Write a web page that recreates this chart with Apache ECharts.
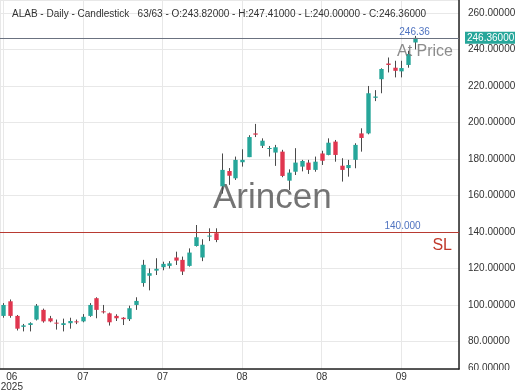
<!DOCTYPE html>
<html><head><meta charset="utf-8">
<script src="https://cdn.jsdelivr.net/npm/echarts@6/dist/echarts.min.js"></script>
<style>html,body{margin:0;padding:0;background:#fff}#c{width:520px;height:390px}</style>
</head><body><div id="c"></div>
<script>
// ---- data ----
const openVals  = [94,102,94,88,89,92,97.3,92.7,90.3,89,90,91,91,94,103.7,96.5,95.4,94,93,92.2,100,112,116,118.8,120.7,121.4,126,124.7,121.4,132.3,126,137.5,139.3,165,173.4,169.4,178.2,181,194,187.2,185.5,183.5,184,168.1,173,175.8,178,174,183,182.2,189.5,176.3,175,179.5,194,194,213.5,223.7,232.3,230,228,231.5,243.82];
const highVals  = [101,103,94.5,89.6,90.5,100.5,98,94,92,92.5,93,92,95,101,104.2,100,95.8,94.9,93.3,99.6,104.2,124.7,120,125.6,123.7,124,129.2,126.5,131,143.8,136,142,142,183,175,181.3,185.3,193,199.2,191.3,187.1,187.7,185,174.3,185.9,179.5,179.5,181.3,184.5,191.3,190.4,180.4,179.5,188.6,196.8,220,217.7,229.7,235.6,233.8,233.8,239.3,247.41];
const lowVals   = [93,93,86,85.5,85.5,91.5,90.3,90.5,86.5,85.5,87,89.5,90.5,93.5,92.7,95.3,88.7,91.2,89,91.2,97.3,110,108,116.4,119,120,121.9,116.4,121,132,124,135,134.4,161,165.8,168.5,175.8,181,192,186,181.3,176.2,170,163,171.2,173.2,171.8,173,176.7,182,178.5,167.6,170.3,174.9,184,193.5,211.7,216,227.4,224.7,224.7,230,240];
const closeVals = [100,94,87,88.8,90,99.6,91,91,89.8,90,91.2,90.5,93.5,100,97.3,96,90.5,92.7,92.2,98.2,102.2,122,117.4,119.8,122.5,122.8,124.3,118.3,128.7,137.1,133,138,135.6,174,170.8,179.5,179.5,192,193.3,190,186,186.4,170.7,172.5,178,178.9,174,178.5,179,188.9,182.2,174,176.7,187.7,191.5,216,214.2,229.3,231.5,228.3,229.8,237.5,246.36];
const tickLabels = ['06','07','07','08','08','09'];
const yearLabel = '2025';
const slLevel = 140;
const slLabel = '140.000';
const titleText = 'ALAB - Daily - Candlestick   63/63 - O:243.82000 - H:247.41000 - L:240.00000 - C:246.36000';

const GREEN = '#26a69a', RED = '#e0364f';
const lastClose = closeVals[closeVals.length - 1];
const rows = openVals.map((o, i) => [i, o, closeVals[i], lowVals[i], highVals[i]]);
const xMin = -0.5, xMax = 68.7, yMin = 64.9, yMax = 267.1;

const chart = echarts.init(document.getElementById('c'), null, {renderer: 'canvas'});
const FONT = 'Liberation Sans, Arial, sans-serif';
chart.setOption({
  animation: false,
  backgroundColor: '#fff',
  textStyle: {fontFamily: FONT},
  title: {text: titleText, left: 7, top: 4, textStyle: {fontSize: 10, fontWeight: 'normal', color: '#333', fontFamily: FONT}},
  grid: {left: 0, right: 61, top: 0, bottom: 21, containLabel: false, outerBoundsMode: 'none'},
  xAxis: {
    type: 'value', min: xMin, max: xMax, minInterval: 12, maxInterval: 12, splitNumber: 6,
    axisLine: {show: true, onZero: false, lineStyle: {color: '#222', width: 1.5}},
    axisTick: {show: false},
    splitLine: {show: true, lineStyle: {color: '#e8e8e8'}},
    axisLabel: {
      showMinLabel: false, showMaxLabel: false, margin: 3, color: '#333', fontSize: 10, fontFamily: FONT, lineHeight: 10,
      formatter: v => {
        const k = Math.round(v / 12);
        if (Math.abs(v - k * 12) > 0.01 || k < 0 || k >= tickLabels.length) return '';
        return k === 0 ? '{p|}{a|' + tickLabels[0] + '}\n{p|}{a|' + yearLabel + '}' : tickLabels[k];
      },
      rich: {
        p: {width: 17, fontSize: 10, lineHeight: 10},
        a: {width: 24, align: 'center', fontSize: 10, lineHeight: 10, color: '#333'}
      }
    }
  },
  yAxis: {
    type: 'value', position: 'right', min: yMin, max: yMax, minInterval: 20, maxInterval: 20, splitNumber: 10,
    axisLine: {show: true, onZero: false, lineStyle: {color: '#222', width: 1.5}},
    axisTick: {show: false},
    splitLine: {show: true, lineStyle: {color: '#e8e8e8'}},
    axisLabel: {showMinLabel: false, showMaxLabel: false, margin: 9, color: '#333', fontSize: 10, fontFamily: FONT, formatter: v => v.toFixed(5)}
  },
  series: [
    {
      type: 'custom', data: rows, clip: true, z: 3,
      encode: {x: 0, y: [1, 2, 3, 4]},
      renderItem: (params, api) => {
        const x = api.value(0), o = api.value(1), c = api.value(2), l = api.value(3), h = api.value(4);
        const pO = api.coord([x, o]), pC = api.coord([x, c]), pL = api.coord([x, l]), pH = api.coord([x, h]);
        const w = api.size([1, 0])[0] * 0.66;
        const top = Math.min(pO[1], pC[1]);
        const hh = Math.max(1, Math.abs(pO[1] - pC[1]));
        const col = c >= o ? GREEN : RED;
        const cx = Math.round(pO[0]) + 0.5;
        return {type: 'group', children: [
          {type: 'line', shape: {x1: cx, y1: pH[1], x2: cx, y2: pL[1]}, style: {stroke: '#4a4a4a', lineWidth: 1}},
          {type: 'rect', shape: {x: cx - w / 2, y: top, width: w, height: hh}, style: {fill: col}}
        ]};
      }
    },
    {
      type: 'line', data: [], silent: true, z: 2,
      markLine: {silent: true, symbol: 'none', label: {show: false}, animation: false,
        data: [
          {yAxis: lastClose, lineStyle: {color: '#6b7280', width: 1, type: 'solid'}},
          {yAxis: slLevel, lineStyle: {color: '#b83a32', width: 1, type: 'solid'}}
        ]}
    }
  ]
});

const yP = chart.convertToPixel({yAxisIndex: 0}, lastClose);
const yS = chart.convertToPixel({yAxisIndex: 0}, slLevel);
const xL = chart.convertToPixel({xAxisIndex: 0}, closeVals.length - 1);
const xR = chart.convertToPixel({xAxisIndex: 0}, xMax);
const yB = chart.convertToPixel({yAxisIndex: 0}, yMin);
chart.setOption({graphic: [
  {type: 'text', z: 1, left: 213, top: 181, style: {text: 'Arincen', fontSize: 35, fontFamily: FONT, fill: 'rgba(70,70,70,0.75)'}},
  {type: 'text', z: 10, x: xL, y: yP - 1, style: {text: lastClose.toFixed(2), fontSize: 10, fontFamily: FONT, fill: '#4f73c0', align: 'center', verticalAlign: 'bottom'}},
  {type: 'text', z: 10, x: xR - 6, y: yP + 14, style: {text: 'At Price', fontSize: 16, fontFamily: FONT, fill: 'rgba(120,120,120,0.85)', align: 'right', verticalAlign: 'middle'}},
  {type: 'text', z: 10, x: xL - 12, y: yS - 1, style: {text: slLabel, fontSize: 10, fontFamily: FONT, fill: '#4f73c0', align: 'center', verticalAlign: 'bottom'}},
  {type: 'text', z: 10, x: xR - 7, y: yS + 14, style: {text: 'SL', fontSize: 16, fontFamily: FONT, fill: '#c0392b', align: 'right', verticalAlign: 'middle'}},
  {type: 'rect', z: 10, shape: {x: xR + 6, y: yP - 6, width: 50, height: 12}, style: {fill: GREEN}},
  {type: 'text', z: 11, x: xR + 8, y: yP, style: {text: lastClose.toFixed(5), fontSize: 10, fontFamily: FONT, fill: '#fff', align: 'left', verticalAlign: 'middle'}},
  {type: 'text', z: 10, x: xR + 9, y: yB - 1, style: {text: (60).toFixed(5), fontSize: 10, fontFamily: FONT, fill: '#333', align: 'left', verticalAlign: 'middle'}},
  {type: 'rect', z: 12, shape: {x: xR + 2, y: yB + 1, width: 60, height: 30}, style: {fill: '#fff'}}
]});
</script></body></html>
